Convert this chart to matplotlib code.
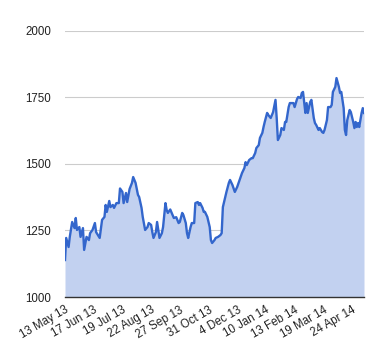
import matplotlib
matplotlib.use("Agg")
import matplotlib.pyplot as plt

# trading-day index (0 = 13 May 13) and value
day = [0, 1, 3, 4, 6, 8, 9, 10, 12, 13, 15, 16, 18, 20, 21, 23, 25, 26, 29, 31,
       33, 34, 35, 37, 38, 40, 41, 43, 45, 46, 48, 49, 51, 52, 54, 56, 57, 59, 61, 62,
       64, 65, 67, 69, 70, 72, 73, 74, 76, 77, 79, 81, 82, 84, 85, 86, 88, 90, 91, 93,
       95, 96, 98, 99, 101, 102, 103, 105, 106, 108, 109, 111, 112, 113, 115, 116, 117, 119, 121, 122,
       123, 125, 126, 128, 130, 131, 132, 134, 135, 137, 138, 140, 142, 144, 146, 148, 150, 151, 152, 154,
       156, 157, 159, 160, 162, 163, 165, 166, 167, 169, 170, 172, 173, 174, 176, 177, 178, 180, 181, 183,
       184, 185, 187, 188, 190, 191, 192, 194, 195, 197, 198, 199, 201, 202, 203, 205, 206, 208, 209, 210,
       212, 213, 215, 216, 217, 219, 220, 222, 223, 224, 226, 227, 229, 230, 231, 233, 234, 235, 236, 238,
       239, 241, 242, 243, 244, 245, 246, 248, 249, 250]
value = [1139, 1222, 1188, 1226, 1282, 1259, 1297, 1252, 1263, 1226, 1259, 1177, 1226, 1214, 1240, 1252, 1278, 1244, 1222, 1290,
         1301, 1346, 1320, 1361, 1338, 1346, 1335, 1353, 1353, 1408, 1395, 1353, 1391, 1357, 1406, 1429, 1451, 1429, 1384, 1376,
         1335, 1301, 1252, 1263, 1278, 1271, 1244, 1222, 1244, 1282, 1222, 1240, 1263, 1353, 1327, 1316, 1329, 1308, 1297, 1300,
         1278, 1282, 1316, 1308, 1278, 1240, 1222, 1263, 1278, 1278, 1353, 1357, 1346, 1353, 1335, 1320, 1320, 1301, 1263, 1214,
         1203, 1214, 1222, 1226, 1233, 1240, 1338, 1376, 1395, 1429, 1440, 1421, 1395, 1414, 1440, 1466, 1485, 1507, 1496, 1515,
         1522, 1522, 1541, 1560, 1571, 1598, 1617, 1639, 1658, 1692, 1684, 1673, 1684, 1695, 1741, 1673, 1590, 1609, 1635, 1628,
         1658, 1658, 1714, 1729, 1729, 1729, 1714, 1744, 1752, 1748, 1767, 1771, 1692, 1729, 1692, 1733, 1741, 1673, 1654, 1647,
         1628, 1635, 1620, 1617, 1628, 1665, 1714, 1714, 1722, 1771, 1790, 1823, 1790, 1767, 1771, 1710, 1628, 1609, 1665, 1703,
         1695, 1658, 1635, 1658, 1639, 1654, 1639, 1692, 1710, 1692]

tick_days = [0, 24, 48, 72, 96, 120, 144, 168, 192, 216, 240]
tick_labels = ["13 May 13", "17 Jun 13", "19 Jul 13", "22 Aug 13", "27 Sep 13", "31 Oct 13",
               "4 Dec 13", "10 Jan 14", "13 Feb 14", "19 Mar 14", "24 Apr 14"]
y_ticks = [1000, 1250, 1500, 1750, 2000]

plt.rcParams['font.family'] = ['Liberation Sans', 'DejaVu Sans']

fig = plt.figure(figsize=(3.8, 3.6), dpi=100)
ax = fig.add_axes([65/380, 1-297/360, (364-65)/380, (297-31)/360])

ax.fill_between(day, value, 1000, color='#c2d1f0', linewidth=0, zorder=2)
ax.plot(day, value, color='#3366cc', linewidth=1.7, zorder=3, solid_joinstyle='round')

ax.set_xlim(0, 250)
ax.set_ylim(1000, 2000)
ax.set_yticks(y_ticks)
ax.set_yticklabels([str(v) for v in y_ticks])
ax.set_xticks(tick_days)
ax.set_xticklabels(tick_labels, rotation=30, ha='right', va='top', rotation_mode='anchor')

for v in y_ticks[1:]:
    ax.axhline(v, color='#cccccc', linewidth=0.8, zorder=1)
ax.axhline(1000, color='#333333', linewidth=1.0, zorder=4, clip_on=False)

for s in ax.spines.values():
    s.set_visible(False)
ax.tick_params(axis='both', length=0, labelsize=8.3, colors='#222222')
ax.tick_params(axis='y', pad=10)
ax.tick_params(axis='x', pad=5)

fig.savefig('out.png', dpi=100)
